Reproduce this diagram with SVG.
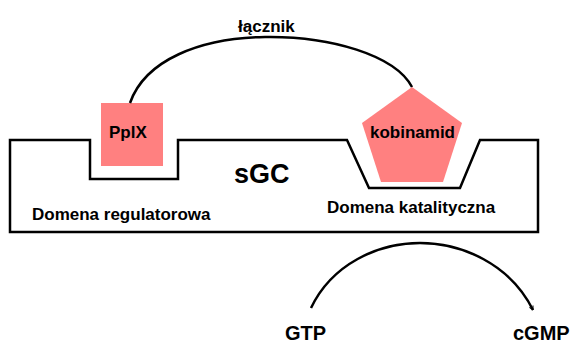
<svg xmlns="http://www.w3.org/2000/svg" width="573" height="343" viewBox="0 0 573 343">
<defs>
<style>
.t{font-family:"Liberation Sans",Arial,sans-serif;font-weight:bold;fill:#000}
.pink{fill:#FF8080;stroke:none}
.line{fill:none;stroke:#000;stroke-width:2.5}
</style>
<marker id="arr" viewBox="0 0 10 10" refX="9" refY="5" markerWidth="5" markerHeight="5" orient="auto" markerUnits="userSpaceOnUse">
<path d="M1,1 L9,5 L1,9" fill="none" stroke="#000" stroke-width="2"/>
</marker>
</defs>
<rect width="573" height="343" fill="#fff"/>
<g id="sgc">
<path d="M10,140 H90 V179 H178 V140 H347 L369,188 H460 L480,140 H538 V232 H10 Z" fill="#fff" stroke="#000" stroke-width="2.5"/>
<text class="t" x="234" y="183" font-size="27">sGC</text>
<text class="t" x="32" y="220" font-size="17">Domena regulatorowa</text>
<text class="t" x="327" y="213" font-size="17">Domena katalityczna</text>
</g>
<g id="pplx">
<rect class="pink" x="101" y="103" width="62" height="63"/>
<text class="t" x="109" y="138" font-size="17">PplX</text>
</g>
<g id="kobinamid">
<polygon class="pink" points="412,87 462,123 443,182 381,182 362,123"/>
<text class="t" x="370" y="138" font-size="17">kobinamid</text>
</g>
<g id="gtp">
<text class="t" x="285" y="340" font-size="20">GTP</text>
</g>
<g id="cgmp">
<text class="t" x="513" y="340" font-size="20">cGMP</text>
</g>
<g id="connectors">
<path class="line" d="M130,103 C145,60 200,38 265,37 C330,36 395,55 412,87"/>
<text class="t" x="238" y="32" font-size="17">łącznik</text>
<path class="line" d="M311,308 C332,264 378,243 420,243 C462,243 510,264 533,310" marker-end="url(#arr)"/>
</g>
</svg>
